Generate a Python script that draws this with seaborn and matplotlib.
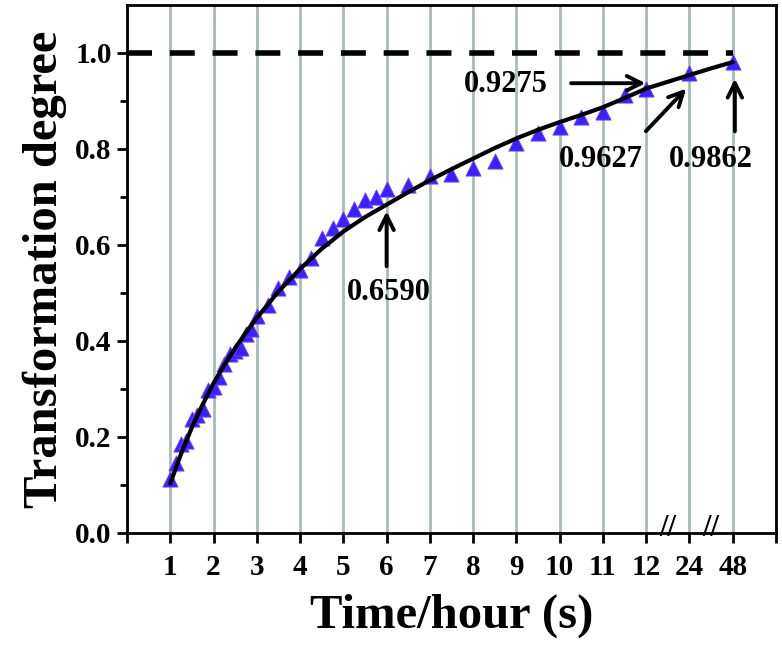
import matplotlib
matplotlib.use("Agg")
import matplotlib.pyplot as plt
import seaborn as sns
import pandas as pd

# x positions on the broken axis: 1..12 h are linear, then 24 h and 48 h
tick_pos = list(range(1, 15))
tick_labels = ["1", "2", "3", "4", "5", "6", "7", "8", "9", "10", "11", "12", "24", "48"]

# measured transformation degree (triangles)
meas_pos = [1.0, 1.125, 1.25, 1.375, 1.5, 1.625, 1.75, 1.875, 2.0, 2.125, 2.25,
            2.375, 2.5, 2.625, 2.75, 2.875, 3.0, 3.25, 3.5, 3.75, 4.0, 4.25,
            4.5, 4.75, 5.0, 5.25, 5.5, 5.75, 6.0, 6.5, 7.0, 7.5, 8.0, 8.5,
            9.0, 9.5, 10.0, 10.5, 11.0, 11.5, 12.0, 13.0, 14.0]
meas_deg = [0.112, 0.145, 0.185, 0.192, 0.238, 0.245, 0.258, 0.298, 0.305, 0.325, 0.352,
            0.372, 0.380, 0.386, 0.415, 0.424, 0.452, 0.474, 0.510, 0.533, 0.547, 0.572,
            0.615, 0.636, 0.655, 0.675, 0.693, 0.701, 0.716, 0.724, 0.744, 0.747, 0.760, 0.774,
            0.812, 0.834, 0.846, 0.867, 0.878, 0.912, 0.926, 0.959, 0.981]

# fitted curve
fit_pos = [1.0, 1.25, 1.5, 1.75, 2.0, 2.25, 2.5, 2.75, 3.0, 3.5, 4.0, 4.5, 5.0, 5.5, 6.0, 6.5,
           7.0, 7.5, 8.0, 8.5, 9.0, 9.5, 10.0, 10.5, 11.0, 11.5, 12.0, 12.5, 13.0, 13.5, 14.0]
fit_deg = [0.103, 0.165, 0.220, 0.268, 0.312, 0.350, 0.385, 0.418, 0.448, 0.503, 0.550, 0.592,
           0.628, 0.658, 0.684, 0.710, 0.735, 0.758, 0.780, 0.802, 0.822, 0.840, 0.856,
           0.871, 0.887, 0.906, 0.926, 0.940, 0.954, 0.968, 0.981]

# annotations: label, text position, arrow tail, arrow tip
notes = [
    ("0.6590", (6.05, 0.50), (6.0, 0.55), (6.0, 0.676)),
    ("0.9275", (8.75, 0.934), (10.2, 0.937), (12.05, 0.937)),
    ("0.9627", (10.95, 0.779), (11.95, 0.833), (12.97, 0.93)),
    ("0.9862", (13.5, 0.779), (14.05, 0.831), (14.05, 0.952)),
]

sns.set_style("ticks")
plt.rcParams["font.family"] = ["Liberation Serif", "DejaVu Serif"]
plt.rcParams["font.weight"] = "bold"
plt.rcParams["text.color"] = "black"
plt.rcParams["axes.labelcolor"] = "black"
plt.rcParams["xtick.color"] = "black"
plt.rcParams["ytick.color"] = "black"

fig = plt.figure(figsize=(7.82, 6.48), dpi=100)
ax = fig.add_axes([0.1624, 0.1775, 0.8299, 0.8148])

df_meas = pd.DataFrame({"pos": meas_pos, "deg": meas_deg})
df_fit = pd.DataFrame({"pos": fit_pos, "deg": fit_deg})

ax.hlines(1.0, 0, tick_pos[-1], colors="black", linestyles=(0, (4.5, 3.2)), lw=4, zorder=2)

sns.scatterplot(data=df_meas, x="pos", y="deg", marker="^", s=120, color="#3a22ff",
                edgecolor="#7a3cff", linewidth=0.6, ax=ax, zorder=3)
sns.lineplot(data=df_fit, x="pos", y="deg", color="black", lw=3, ax=ax, zorder=4)

for label, txt, tail, tip in notes:
    ax.annotate("", xy=tip, xytext=tail,
                arrowprops=dict(arrowstyle="->", lw=2.8, color="black", mutation_scale=26))
    ax.text(txt[0], txt[1], label, ha="center", va="center", fontsize=22, fontweight="bold")

ax.set_xlim(0, 15)
ax.set_ylim(0, 1.1)
ax.set_xticks([0] + tick_pos + [15])
ax.set_xticklabels([""] + tick_labels + [""])
ax.set_yticks([0.0, 0.2, 0.4, 0.6, 0.8, 1.0])
ax.set_yticklabels(["0.0", "0.2", "0.4", "0.6", "0.8", "1.0"])
ax.set_yticks([0.1, 0.3, 0.5, 0.7, 0.9], minor=True)
ax.grid(axis="x", color="#a9babd", lw=2)
ax.set_axisbelow(True)

for sp in ax.spines.values():
    sp.set_linewidth(2)
    sp.set_color("black")
ax.tick_params(axis="both", which="major", direction="out", length=7, width=2,
               labelsize=21, pad=4)
ax.tick_params(axis="x", which="major", pad=8)
ax.tick_params(axis="y", which="minor", direction="out", length=5, width=2)
for lab in ax.get_xticklabels() + ax.get_yticklabels():
    lab.set_fontweight("bold")

# axis break marks between 12 and 24, and 24 and 48
for bx in [12.5, 13.5]:
    ax.text(bx, 0.008, "//", ha="center", va="center", fontsize=22, fontweight="bold",
            transform=ax.get_xaxis_transform(), clip_on=False)

ax.set_xlabel("Time/hour (s)", fontsize=35, fontweight="bold", labelpad=9)
ax.set_ylabel("Transformation degree", fontsize=35, fontweight="bold", labelpad=6)

fig.savefig("out.png", dpi=100)
